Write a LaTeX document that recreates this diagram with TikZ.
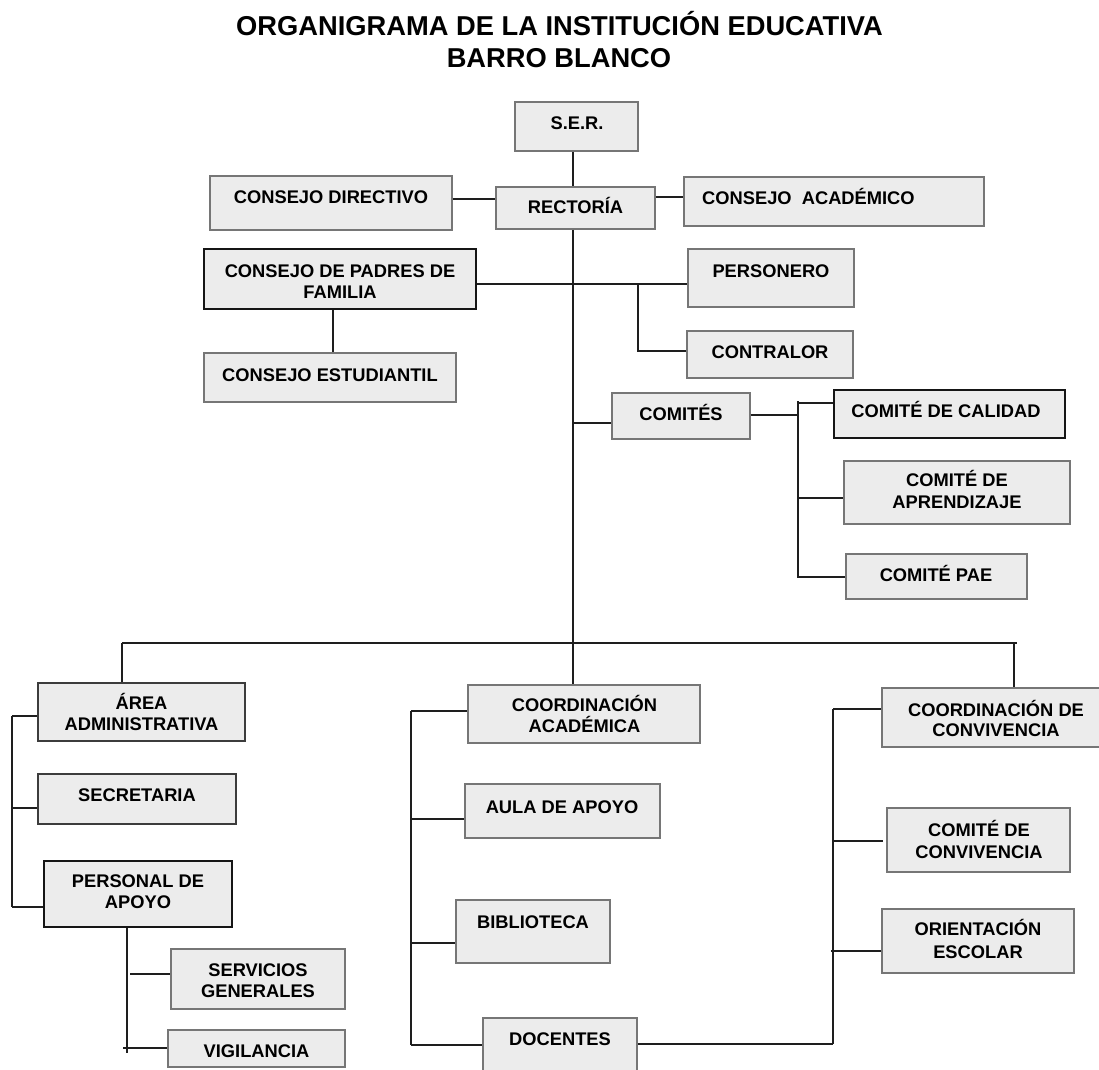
\documentclass[tikz,border=0pt]{standalone}
\usepackage{fontspec}
\setmainfont{Liberation Sans}
\definecolor{boxfill}{HTML}{ECECEC}
\definecolor{boxline}{HTML}{767676}
\definecolor{boxmid}{HTML}{3C3C3C}
\definecolor{boxdark}{HTML}{151515}
\definecolor{linecol}{HTML}{1E1E1E}
\tikzset{
  bx/.style={draw=boxline, fill=boxfill, line width=1.6pt, inner sep=0pt, rectangle},
  bxmid/.style={bx, draw=boxmid},
  bxdark/.style={bx, draw=boxdark, line width=1.9pt},
  txt/.style={inner sep=0pt, anchor=base, font=\fontsize{18.3}{21}\selectfont\bfseries},
  ttl/.style={inner sep=0pt, anchor=base, font=\fontsize{27.3}{32}\selectfont\bfseries},
  conn/.style={draw=linecol, line width=1.4pt},
}
\newcommand\OBox[6]{\node[#1, minimum width={#5pt-#3pt}, minimum height={#6pt-#4pt}] (#2) at ({(#3+#5)/2},{(#4+#6)/2}) {};}
\begin{document}
\begin{tikzpicture}[x=1pt,y=-1pt]
\useasboundingbox (0,0) rectangle (1099,1069);
\fill[white] (0,0) rectangle (1099,1069);
\clip (0,0) rectangle (1099,1069);

% title
\node[ttl] (ttl1) at (559.5,35) {ORGANIGRAMA DE LA INSTITUCIÓN EDUCATIVA};
\node[ttl] (ttl2) at (559,67) {BARRO BLANCO};

% boxes
\OBox{bx}{ser}{515}{102}{638}{151}
\OBox{bx}{cd}{210}{176}{452}{230}
\OBox{bx}{rec}{496}{187}{655}{229}
\OBox{bx}{ca}{684}{177}{984}{226}
\OBox{bxdark}{cpf}{204}{249}{476}{309}
\OBox{bx}{per}{688}{249}{854}{307}
\OBox{bx}{con}{687}{331}{853}{378}
\OBox{bx}{ce}{204}{353}{456}{402}
\OBox{bx}{com}{612}{393}{750}{439}
\OBox{bxdark}{cal}{834}{390}{1065}{438}
\OBox{bx}{apr}{844}{461}{1070}{524}
\OBox{bx}{pae}{846}{554}{1027}{599}
\OBox{bxmid}{area}{38}{683}{245}{741}
\OBox{bxmid}{sec}{38}{774}{236}{824}
\OBox{bxdark}{pda}{44}{861}{232}{927}
\OBox{bx}{serv}{171}{949}{345}{1009}
\OBox{bx}{vig}{168}{1030}{345}{1067}
\OBox{bx}{cac}{468}{685}{700}{743}
\OBox{bx}{aula}{465}{784}{660}{838}
\OBox{bx}{bib}{456}{900}{610}{963}
\OBox{bx}{doc}{483}{1018}{637}{1085}
\OBox{bx}{ccv}{882}{688}{1110}{747}
\OBox{bx}{cmc}{887}{808}{1070}{872}
\OBox{bx}{ori}{882}{909}{1074}{973}

% texts
\node[txt] (serT) at (577,129) {S.E.R.};
\node[txt] (cdT) at (331,203) {CONSEJO DIRECTIVO};
\node[txt] (recT) at (575.5,213) {RECTORÍA};
\node[txt, anchor=base west] (caT) at (702,204) {CONSEJO\ \ ACADÉMICO};
\node[txt] (cpfT1) at (340,277) {CONSEJO DE PADRES DE};
\node[txt] (cpfT2) at (340,298) {FAMILIA};
\node[txt] (perT) at (771,277) {PERSONERO};
\node[txt] (conT) at (770,358) {CONTRALOR};
\node[txt] (ceT) at (330,381) {CONSEJO ESTUDIANTIL};
\node[txt] (comT) at (681,420) {COMITÉS};
\node[txt] (calT) at (946,417) {COMITÉ DE CALIDAD};
\node[txt] (aprT1) at (957,486) {COMITÉ DE};
\node[txt] (aprT2) at (957,508) {APRENDIZAJE};
\node[txt] (paeT) at (936,581) {COMITÉ PAE};
\node[txt] (areaT1) at (141.5,709) {ÁREA};
\node[txt] (areaT2) at (141.5,730) {ADMINISTRATIVA};
\node[txt] (secT) at (137,801) {SECRETARIA};
\node[txt] (pdaT1) at (138,887) {PERSONAL DE};
\node[txt] (pdaT2) at (138,908) {APOYO};
\node[txt] (servT1) at (258,976) {SERVICIOS};
\node[txt] (servT2) at (258,997) {GENERALES};
\node[txt] (vigT) at (256.5,1057) {VIGILANCIA};
\node[txt] (cacT1) at (584.5,711) {COORDINACIÓN};
\node[txt] (cacT2) at (584.5,732) {ACADÉMICA};
\node[txt] (aulaT) at (562,813) {AULA DE APOYO};
\node[txt] (bibT) at (533,928) {BIBLIOTECA};
\node[txt] (docT) at (560,1045) {DOCENTES};
\node[txt] (ccvT1) at (996,716) {COORDINACIÓN DE};
\node[txt] (ccvT2) at (996,736) {CONVIVENCIA};
\node[txt] (cmcT1) at (979,836) {COMITÉ DE};
\node[txt] (cmcT2) at (979,858) {CONVIVENCIA};
\node[txt] (oriT1) at (978,935) {ORIENTACIÓN};
\node[txt] (oriT2) at (978,958) {ESCOLAR};

% helper coordinates
\coordinate (tx) at (573,0);
\coordinate (ycd) at (0,199);
\coordinate (yca) at (0,197);
\coordinate (ypf) at (0,284);
\coordinate (jpc) at (638,284);
\coordinate (ycon) at (0,351);
\coordinate (xce) at (333,0);
\coordinate (ycom) at (0,423);
\coordinate (sc) at (798,0);
\coordinate (ycm) at (0,415);
\coordinate (ysc1) at (0,401);
\coordinate (ysc2) at (0,578);
\coordinate (ycal) at (0,403);
\coordinate (yapr) at (0,498);
\coordinate (ypae) at (0,577);
\coordinate (busL) at (122,643);
\coordinate (busR) at (1017,643);
\coordinate (xr) at (1014,643);
\coordinate (xl) at (12,0);
\coordinate (ya1) at (0,716);
\coordinate (ya2) at (0,808);
\coordinate (ya3) at (0,907);
\coordinate (xp) at (127,0);
\coordinate (xpEnd) at (127,1053);
\coordinate (sv0) at (130,974);
\coordinate (vg0) at (123,1048);
\coordinate (xm) at (411,0);
\coordinate (ym1) at (0,711);
\coordinate (ym2) at (0,819);
\coordinate (ym3) at (0,943);
\coordinate (ym4) at (0,1045);
\coordinate (rs) at (833,0);
\coordinate (yr1) at (0,709);
\coordinate (dr) at (833,1044);
\coordinate (cm0) at (883,841);
\coordinate (yr2) at (0,841);
\coordinate (or0) at (831,951);

% connectors
\draw[conn] (ser.south -| tx) -- (rec.north -| tx);
\draw[conn] (rec.south -| tx) -- (cac.north -| tx);
\draw[conn] (cd.east |- ycd) -- (rec.west |- ycd);
\draw[conn] (rec.east |- yca) -- (ca.west |- yca);
\draw[conn] (cpf.east |- ypf) -- (per.west |- ypf);
\draw[conn] (jpc) |- (con.west |- ycon);
\draw[conn] (cpf.south -| xce) -- (ce.north -| xce);
\draw[conn] (tx |- ycom) -- (com.west |- ycom);
\draw[conn] (com.east |- ycm) -- (sc |- ycm);
\draw[conn] (sc |- ysc1) -- (sc |- ysc2);
\draw[conn] (sc |- ycal) -- (cal.west |- ycal);
\draw[conn] (sc |- yapr) -- (apr.west |- yapr);
\draw[conn] (sc |- ypae) -- (pae.west |- ypae);
\draw[conn] (busL) -- (busR);
\draw[conn] (busL) -- (area.north -| busL);
\draw[conn] (xr) -- (ccv.north -| xr);
\draw[conn] (xl |- ya1) -- (xl |- ya3);
\draw[conn] (xl |- ya1) -- (area.west |- ya1);
\draw[conn] (xl |- ya2) -- (sec.west |- ya2);
\draw[conn] (xl |- ya3) -- (pda.west |- ya3);
\draw[conn] (pda.south -| xp) -- (xpEnd);
\draw[conn] (sv0) -- (serv.west |- sv0);
\draw[conn] (vg0) -- (vig.west |- vg0);
\draw[conn] (xm |- ym1) -- (xm |- ym4);
\draw[conn] (xm |- ym1) -- (cac.west |- ym1);
\draw[conn] (xm |- ym2) -- (aula.west |- ym2);
\draw[conn] (xm |- ym3) -- (bib.west |- ym3);
\draw[conn] (xm |- ym4) -- (doc.west |- ym4);
\draw[conn] (doc.east |- dr) -- (dr);
\draw[conn] (rs |- yr1) -- (dr);
\draw[conn] (rs |- yr1) -- (ccv.west |- yr1);
\draw[conn] (rs |- yr2) -- (cm0);
\draw[conn] (or0) -- (ori.west |- or0);
\end{tikzpicture}
\end{document}
